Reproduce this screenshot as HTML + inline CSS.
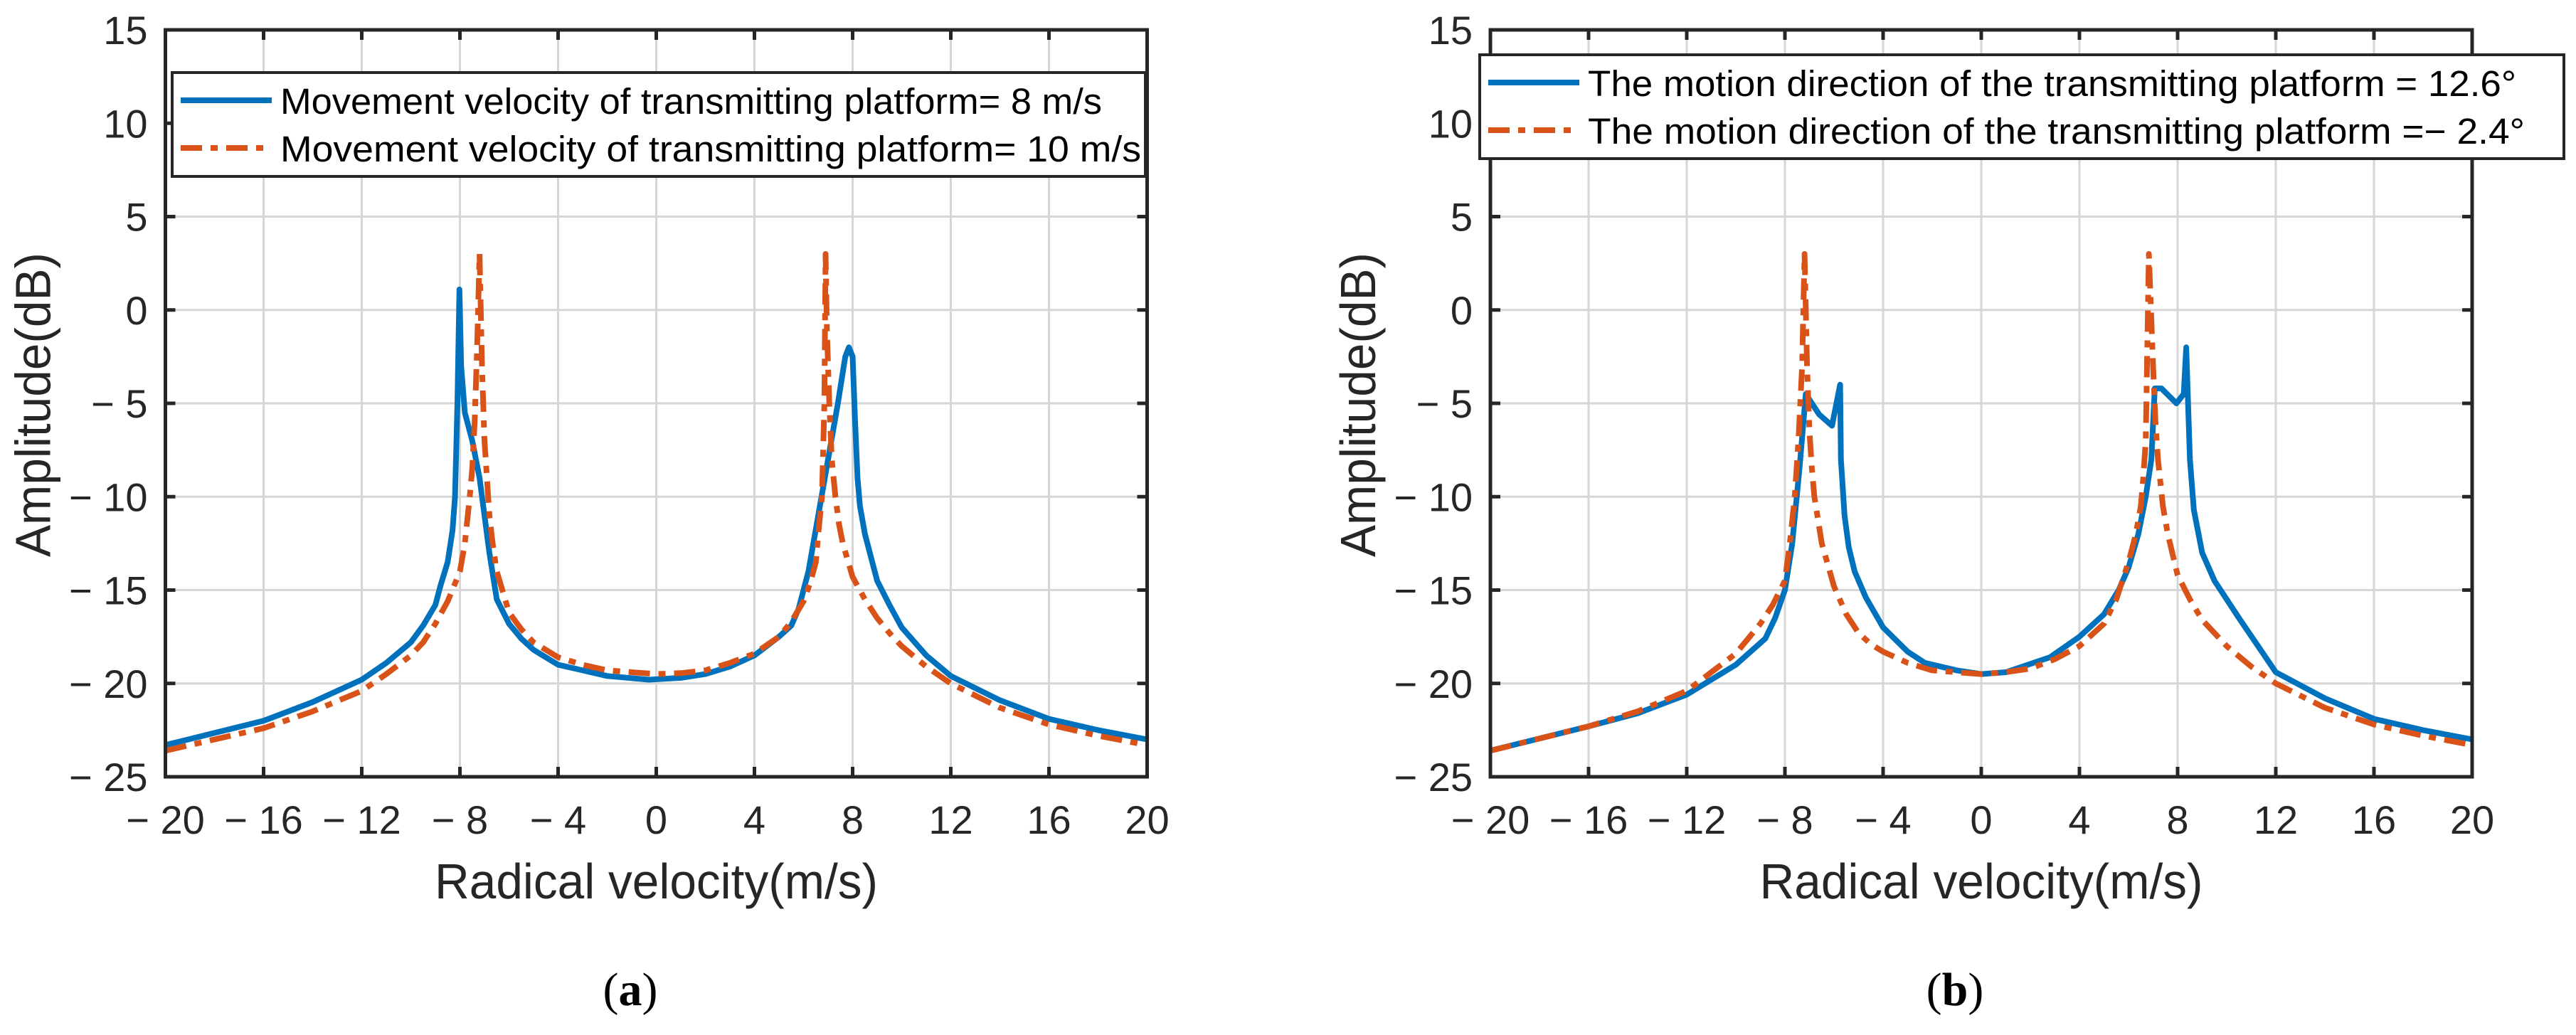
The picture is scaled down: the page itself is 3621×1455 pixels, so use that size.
<!DOCTYPE html>
<html><head><meta charset="utf-8"><style>
html,body{margin:0;padding:0;background:#fff;}
svg{display:block;}
</style></head><body>
<svg id="fig" width="3621" height="1455" viewBox="0 0 3621 1455" xmlns="http://www.w3.org/2000/svg" style="font-family:'Liberation Sans',Arial,sans-serif"></svg>
<script>
// ---- shared axis data ----
const xTicks = [-20,-16,-12,-8,-4,0,4,8,12,16,20];
const yTicks = [15,10,5,0,-5,-10,-15,-20,-25];

// ---- panel (a) data ----
const aBlueX = [-20,-16,-14,-12,-11,-10,-9.5,-9,-8.8,-8.5,-8.3,-8.2,-8.1,-8.02,-7.95,-7.8,-7.5,-7.2,-7.0,-6.8,-6.5,-6,-5.5,-5,-4,-3,-2,-0.3,1,2,3,4,5,5.5,5.8,6.2,6.6,7.0,7.4,7.7,7.85,8.0,8.1,8.2,8.3,8.5,8.8,9,9.5,10,11,12,14,16,18,20];
const aBlueY = [-23.3,-22.0,-21.0,-19.8,-18.9,-17.8,-16.9,-15.8,-14.8,-13.5,-11.8,-10,-5,1.1,-3,-5.5,-7,-9,-11,-13,-15.5,-16.8,-17.6,-18.2,-19,-19.3,-19.6,-19.8,-19.7,-19.5,-19.1,-18.5,-17.5,-16.9,-16.0,-14,-11,-8,-5,-2.5,-2.0,-2.5,-6,-9,-10.5,-12,-13.5,-14.5,-15.8,-17,-18.5,-19.6,-20.9,-21.9,-22.5,-23.0];
const aOrangeX = [-20,-16,-14,-12,-11,-10,-9.5,-9,-8.5,-8,-7.8,-7.6,-7.5,-7.4,-7.3,-7.2,-7.1,-7.0,-6.9,-6.8,-6.65,-6.5,-6,-5.5,-5,-4,-3,-2,0,1,2,3,4,5,5.5,6,6.3,6.5,6.6,6.75,6.85,6.9,6.95,7.05,7.15,7.3,7.45,7.6,8.0,8.5,9,9.5,10,11,12,14,16,18,20];
const aOrangeY = [-23.6,-22.4,-21.5,-20.4,-19.5,-18.5,-17.8,-16.8,-15.6,-14,-12.5,-10,-8.5,-6,-2,3,-3,-7,-9,-11,-12.7,-14,-16.2,-17.1,-17.8,-18.6,-19.0,-19.3,-19.5,-19.45,-19.3,-18.9,-18.4,-17.5,-16.7,-15.6,-14.5,-13.5,-12,-10,-5,3,-1,-5,-8,-10,-11.5,-12.5,-14.3,-15.5,-16.5,-17.3,-18,-19.1,-20,-21.3,-22.2,-22.8,-23.3];
const aLegend = ["Movement velocity of transmitting platform= 8 m/s","Movement velocity of transmitting platform= 10 m/s"];

// ---- panel (b) data ----
const bBlueX = [-20,-16,-14,-12,-10,-8.8,-8.4,-8,-7.7,-7.4,-7.15,-6.6,-6.08,-5.75,-5.72,-5.57,-5.4,-5.16,-4.7,-4,-3,-2.3,-1,0,1,2.8,4,5,5.6,6,6.4,6.7,6.93,7.07,7.34,7.95,8.25,8.35,8.5,8.66,9,9.5,10.5,12,14,16,18,20];
const bBlueY = [-23.6,-22.3,-21.6,-20.6,-19.0,-17.6,-16.5,-15,-12.5,-8.4,-4.5,-5.6,-6.2,-4.0,-8,-11,-12.7,-14,-15.4,-17.0,-18.3,-18.9,-19.3,-19.5,-19.4,-18.6,-17.5,-16.3,-15,-13.8,-12,-10,-8,-4.2,-4.2,-5,-4.5,-2,-8,-10.7,-13,-14.5,-16.5,-19.4,-20.8,-21.9,-22.5,-23.0];
const bOrangeX = [-20,-16,-14,-12,-10,-9,-8.5,-8,-7.8,-7.6,-7.45,-7.3,-7.2,-7.1,-7.0,-6.9,-6.8,-6.5,-6,-5.5,-5,-4.5,-4,-3,-2,0,1,2,3,4,5,5.5,6,6.3,6.5,6.6,6.7,6.83,7.0,7.1,7.2,7.4,7.6,8,8.5,9,9.5,10,11,12,14,16,18,20];
const bOrangeY = [-23.6,-22.3,-21.5,-20.4,-18.4,-16.8,-15.8,-14.5,-12.5,-10,-7,-3,3,-3,-6.5,-8.5,-10,-12.5,-14.8,-16.3,-17.3,-17.9,-18.3,-18.9,-19.3,-19.5,-19.4,-19.2,-18.7,-18.0,-16.8,-15.5,-13.5,-12,-10.5,-9,-7,3,-3,-6,-8,-10.5,-12,-14.2,-15.5,-16.6,-17.3,-18,-19.1,-20,-21.3,-22.2,-22.8,-23.3];
const bLegend = ["The motion direction of the transmitting platform = 12.6°","The motion direction of the transmitting platform =\u2212 2.4°"];

const NS = "http://www.w3.org/2000/svg";
const svg = document.getElementById('fig');
function mk(tag, attrs, parent){
  const e = document.createElementNS(NS, tag);
  for (const k in attrs) e.setAttribute(k, attrs[k]);
  (parent||svg).appendChild(e);
  return e;
}
function fmt(v){ return v<0 ? "\u2212 " + Math.abs(v) : String(v); }

function panel(cfg){
  const L=cfg.left, R=cfg.left+1380, T=42, B=1092;
  const sx = v => L + (v+20)/40*(R-L);
  const sy = v => T + (15-v)/40*(B-T);
  const g = mk('g',{});
  
  
  xTicks.forEach(t=>{
    if(t===-20||t===20) return;
    const l = mk('line',{x1:sx(t),x2:sx(t),y1:T,y2:B,stroke:'#d6d6d6','stroke-width':3}, g);
    
    
  });
  yTicks.forEach(t=>{
    if(t===15||t===-25) return;
    const l = mk('line',{x1:L,x2:R,y1:sy(t),y2:sy(t),stroke:'#d6d6d6','stroke-width':3}, g);
    
    
  });
  function series(xs, ys, color, dash, nm){
    const pts = xs.map((x,i)=>sx(x).toFixed(1)+','+sy(ys[i]).toFixed(1)).join(' ');
    const p = mk('polyline',{points:pts,fill:'none',stroke:color,'stroke-width':8,'stroke-linejoin':'round','stroke-dasharray':dash||'none'}, g);
    
    
  }
  series(cfg.bx, cfg.by, '#0072BD', null, 'series-blue');
  series(cfg.ox, cfg.oy, '#D95319', '30 12 10 12', 'series-orange');
  const box = mk('rect',{x:L,y:T,width:R-L,height:B-T,fill:'none',stroke:'#262626','stroke-width':5}, g);
  
  
  xTicks.forEach(t=>{
    mk('line',{x1:sx(t),x2:sx(t),y1:B,y2:B-14,stroke:'#262626','stroke-width':5}, g);
    mk('line',{x1:sx(t),x2:sx(t),y1:T,y2:T+14,stroke:'#262626','stroke-width':5}, g);
    const tx = mk('text',{x:sx(t),y:1172,'font-size':56,'text-anchor':'middle',fill:'#262626'}, g);
    tx.textContent = fmt(t);
    
    
  });
  yTicks.forEach(t=>{
    mk('line',{x1:L,x2:L+14,y1:sy(t),y2:sy(t),stroke:'#262626','stroke-width':5}, g);
    mk('line',{x1:R,x2:R-14,y1:sy(t),y2:sy(t),stroke:'#262626','stroke-width':5}, g);
    const ty = mk('text',{x:L-25,y:sy(t)+20,'font-size':56,'text-anchor':'end',fill:'#262626'}, g);
    ty.textContent = fmt(t);
    
    
  });
  const xt = mk('text',{x:(L+R)/2,y:1263,'font-size':70,'text-anchor':'middle',fill:'#262626',textLength:623,lengthAdjust:'spacingAndGlyphs'}, g);
  xt.textContent = 'Radical velocity(m/s)';
  
  
  const yt = mk('text',{x:0,y:0,'font-size':70,'text-anchor':'middle',fill:'#262626',textLength:428,lengthAdjust:'spacingAndGlyphs',transform:`translate(${L-162},569) rotate(-90)`}, g);
  yt.textContent = 'Amplitude(dB)';
  
  
  const lg = mk('g',{}, g);
  
  
  const lb = mk('rect',{x:cfg.lx,y:cfg.ly,width:cfg.lw,height:146,fill:'#fff',stroke:'#262626','stroke-width':4}, lg);
  
  
  [[ '#0072BD','none'],[ '#D95319','30 12 10 12']].forEach((s,i)=>{
    const yy = cfg.ly + 39 + i*67;
    const ln = mk('line',{x1:cfg.lx+12,x2:cfg.lx+12+cfg.sl,y1:yy,y2:yy,stroke:s[0],'stroke-width':8,'stroke-dasharray':s[1]}, lg);
    
    
    const tt = mk('text',{x:cfg.lx+cfg.sl+24,y:yy+19,'font-size':51,fill:'#000',textLength:cfg.tl[i],lengthAdjust:'spacingAndGlyphs'}, lg);
    tt.textContent = cfg.legend[i];
    
    
  });
  const pl = mk('text',{x:cfg.labelX,y:1413,'font-size':66,'text-anchor':'middle',fill:'#000'}, g);
  pl.setAttribute('style','font-family:"Liberation Serif",serif');
  pl.innerHTML = '(<tspan font-weight="bold">'+cfg.label+'</tspan>)';
  
  
}

panel({name:'chart-a', left:232.5, bx:aBlueX, by:aBlueY, ox:aOrangeX, oy:aOrangeY,
  lx:242, ly:102, lw:1368, sl:128, legend:aLegend, tl:[1155,1210], label:'a', labelX:886});
panel({name:'chart-b', left:2095, bx:bBlueX, by:bBlueY, ox:bOrangeX, oy:bOrangeY,
  lx:2080, ly:77, lw:1524, sl:128, legend:bLegend, tl:[1305,1317], label:'b', labelX:2748});
</script>
</body></html>
